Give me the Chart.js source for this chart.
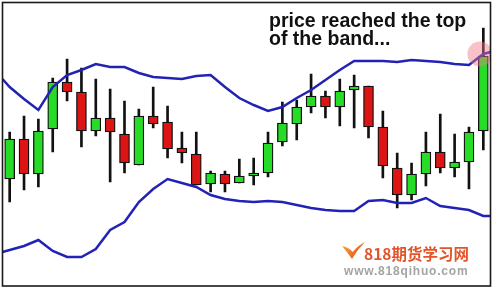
<!DOCTYPE html>
<html><head><meta charset="utf-8">
<script src="https://cdn.jsdelivr.net/npm/chart.js@4/dist/chart.umd.min.js"></script>
<style>html,body{margin:0;padding:0;background:#fff;overflow:hidden}canvas{display:block}</style>
</head><body>
<canvas id="c" width="494" height="290"></canvas>
<script>
// Candle data (price units), one entry per session
const sessions = [0,1,2,3,4,5,6,7,8,9,10,11,12,13,14,15,16,17,18,19,20,21,22,23,24,25,26,27,28,29,30,31,32,33];
const opens  = [107,147,112,157,204,194,155,168,152,121,170,164,138,132,102,112,103,110,113,144,162,179,190,179,196,200,159,118, 91,112,134,118,124,155];
const highs  = [154,170,167,208,227,218,207,197,185,177,199,180,154,154,115,115,127,128,154,184,186,212,195,207,211,200,175,133,123,154,172,152,159,258];
const lows   = [ 84, 96, 99,134,185,139,150,104,113,121,158,128,123,101, 94, 94,103,101,109,140,146,173,168,160,158,148,108, 78, 86,100,113,109, 97,136];
const closes = [147,112,155,204,194,155,168,154,123,170,162,137,133,101,113,102,110,113,143,163,179,190,179,195,200,159,120, 91,112,134,118,124,154,230];

// Bollinger bands, sampled at the chart edges and at each session
const bandPos   = [-0.5,0,1,2,3,4,5,6,7,8,9,10,11,12,13,14,15,16,17,18,19,20,21,22,23,24,25,26,27,28,29,30,31,32,33,33.5];
const upperBand = [207,199,187,176,199,211,216,222,219,219,213,209,208,207,210,211,199,188,181,175,179,188,196,206,216,225,225,225,224,226,225,224,222,221,232,234];
const lowerBand = [ 34, 36, 40, 46, 35, 29, 29, 37, 56, 64, 84, 97,107,103, 99, 91, 87, 85, 84, 85, 84, 81, 78, 76, 75, 75, 85, 86, 83, 83, 88, 80, 78, 76, 70, 70];

const highlightIndex = 33;
const noteLines = ['price reached the top', 'of the band...'];
const brandText = '818期货学习网';
const brandUrl = 'www.818qihuo.com';

const GREEN = '#27dc27', RED = '#dc1414', BLUE = '#2222b4';

const bodyColors = sessions.map(i => closes[i] >= opens[i] ? GREEN : RED);

const decor = {
  id: 'decor',
  beforeDraw(chart) {
    const ctx = chart.ctx;
    ctx.save();
    ctx.fillStyle = '#fff';
    ctx.fillRect(0, 0, chart.width, chart.height);
    ctx.restore();
  },
  afterDatasetsDraw(chart) {
    const ctx = chart.ctx, xs = chart.scales.x, ys = chart.scales.y, a = chart.chartArea;
    const cx = xs.getPixelForValue(highlightIndex) - 3.5;
    const cy = ys.getPixelForValue(upperBand[bandPos.indexOf(highlightIndex)]);
    ctx.save();
    ctx.beginPath();
    ctx.rect(a.left, a.top, a.right - a.left, a.bottom - a.top);
    ctx.clip();
    ctx.fillStyle = 'rgba(240,120,135,0.45)';
    ctx.beginPath();
    ctx.arc(cx, cy, 12.5, 0, Math.PI * 2);
    ctx.fill();
    ctx.restore();
  },
  afterDraw(chart) {
    const ctx = chart.ctx, a = chart.chartArea;
    ctx.save();
    // frame
    ctx.strokeStyle = '#1a1a1a';
    ctx.lineWidth = 1.6;
    ctx.strokeRect(a.left, a.top, a.right - a.left, a.bottom - a.top);
    // note
    ctx.fillStyle = '#111';
    ctx.font = 'bold 19.5px "Liberation Sans", Arial, sans-serif';
    ctx.textBaseline = 'alphabetic';
    ctx.fillText(noteLines[0], 269, 27);
    ctx.fillText(noteLines[1], 269, 45);
    // watermark logo swoosh
    const g = ctx.createLinearGradient(342, 242, 364, 260);
    g.addColorStop(0, '#f9b040');
    g.addColorStop(1, '#e0401c');
    ctx.fillStyle = g;
    ctx.beginPath();
    ctx.moveTo(342, 246);
    ctx.quadraticCurveTo(347, 252, 352, 259);
    ctx.quadraticCurveTo(357, 250, 365, 242);
    ctx.quadraticCurveTo(356, 247, 353, 252);
    ctx.quadraticCurveTo(348, 247, 342, 246);
    ctx.closePath();
    ctx.fill();
    // watermark text
    ctx.fillStyle = '#e2552a';
    ctx.font = 'bold 15.5px "Noto Sans CJK SC", sans-serif';
    ctx.letterSpacing = '0px';
    ctx.fillText(brandText, 364, 260);
    ctx.fillStyle = '#a4a4a4';
    ctx.font = 'bold 12px "Liberation Sans", Arial, sans-serif';
    ctx.letterSpacing = '0.8px';
    ctx.fillText(brandUrl, 344, 275);
    ctx.restore();
  }
};

new Chart(document.getElementById('c'), {
  type: 'bar',
  data: {
    datasets: [
      {
        type: 'line', label: 'Upper band', order: 1,
        data: bandPos.map((x, k) => ({ x, y: upperBand[k] })),
        borderColor: BLUE, borderWidth: 2.5, pointRadius: 0, tension: 0, fill: false
      },
      {
        type: 'line', label: 'Lower band', order: 1,
        data: bandPos.map((x, k) => ({ x, y: lowerBand[k] })),
        borderColor: BLUE, borderWidth: 2.5, pointRadius: 0, tension: 0, fill: false
      },
      {
        type: 'bar', label: 'Body', order: 2, grouped: false,
        data: sessions.map(i => ({ x: i, y: [opens[i], closes[i]] })),
        backgroundColor: bodyColors, borderColor: '#111', borderWidth: 1.3,
        borderSkipped: false, barThickness: 10
      },
      {
        type: 'bar', label: 'Wick', order: 3, grouped: false,
        data: sessions.map(i => ({ x: i, y: [lows[i], highs[i]] })),
        backgroundColor: '#111', borderWidth: 0, barThickness: 2
      }
    ]
  },
  options: {
    responsive: false,
    devicePixelRatio: 1,
    animation: false,
    layout: { padding: { left: 2.5, right: 3.5, top: 2.5, bottom: 4 } },
    plugins: { legend: { display: false }, tooltip: { enabled: false } },
    scales: {
      x: { type: 'linear', min: -0.5, max: 33.5, offset: false, display: false },
      y: { type: 'linear', min: 0, max: 283.5, display: false }
    }
  },
  plugins: [decor]
});
</script>
</body></html>
